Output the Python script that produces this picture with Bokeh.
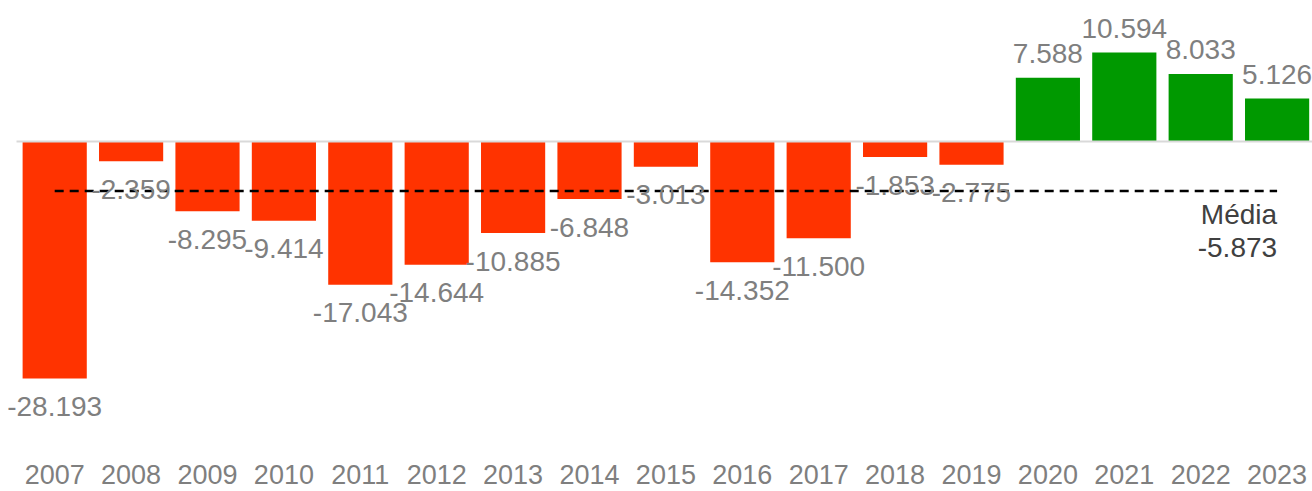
from bokeh.plotting import figure
from bokeh.models import ColumnDataSource, LabelSet, Label, Range1d
from bokeh.core.properties import value
from bokeh.embed import file_html
from bokeh.resources import INLINE

years = ["2007", "2008", "2009", "2010", "2011", "2012", "2013", "2014", "2015",
         "2016", "2017", "2018", "2019", "2020", "2021", "2022", "2023"]
values = [-28.193, -2.359, -8.295, -9.414, -17.043, -14.644, -10.885, -6.848, -3.013,
          -14.352, -11.500, -1.853, -2.775, 7.588, 10.594, 8.033, 5.126]
mean_label = "Média"

RED = "#FF3300"
GREEN = "#009900"
LABEL_GRAY = "#7F7F7F"
DARK = "#404040"
FONT = "Liberation Sans"
FS = "28px"
FS_YEAR = "27px"

xs = list(range(len(years)))
colors = [GREEN if v >= 0 else RED for v in values]
texts = [f"{v:.3f}" for v in values]
mean = sum(values) / len(values)

# layout constants (pixels)
W, H = 1312, 491
left_px = 16          # where the category area begins
step = 76.4           # pixels per category
zero_px = 141
px_per_unit = 8.41

x_start = -0.5 - left_px / step
x_end = -0.5 + (W - left_px) / step
y_top = zero_px / px_per_unit
y_bot = -(H - zero_px) / px_per_unit

p = figure(width=W, height=H, output_backend="svg", toolbar_location=None,
           x_range=Range1d(x_start, x_end), y_range=Range1d(y_bot, y_top),
           x_axis_location=None, y_axis_location=None,
           min_border_left=0, min_border_right=0,
           min_border_top=0, min_border_bottom=0)
p.outline_line_color = None
p.grid.visible = False
p.background_fill_color = "white"
p.border_fill_color = "white"

src = ColumnDataSource(dict(x=xs, v=values, c=colors, t=texts, yr=years,
                            base=[y_bot] * len(xs)))
p.vbar(x="x", top="v", bottom=0, width=0.84, fill_color="c", line_color=None, source=src)

# zero baseline across the category area
p.line(x=[-0.5, x_end], y=[0, 0], line_color="#D9D9D9", line_width=2)

p.line(x=[xs[0], xs[-1]], y=[mean, mean], line_color="black", line_width=2.5, line_dash="9 6")

neg = ColumnDataSource(dict(x=[x for x, v in zip(xs, values) if v < 0],
                            v=[v for v in values if v < 0],
                            t=[t for t, v in zip(texts, values) if v < 0]))
pos = ColumnDataSource(dict(x=[x for x, v in zip(xs, values) if v >= 0],
                            v=[v for v in values if v >= 0],
                            t=[t for t, v in zip(texts, values) if v >= 0]))
for s, off in ((neg, -28), (pos, 24)):
    p.add_layout(LabelSet(x="x", y="v", text="t", source=s, y_offset=off,
                          text_align="center", text_baseline="middle",
                          text_font=value(FONT), text_font_size=value(FS),
                          text_color=LABEL_GRAY))

# category (year) labels along the bottom
p.add_layout(LabelSet(x="x", y="base", text="yr", source=src, y_offset=17,
                      text_align="center", text_baseline="middle",
                      text_font=value(FONT), text_font_size=value(FS_YEAR),
                      text_color=LABEL_GRAY))

p.add_layout(Label(x=xs[-1], y=mean, text=mean_label, y_offset=-24, text_align="right",
                   text_baseline="middle", text_font=FONT, text_font_size=FS, text_color=DARK))
p.add_layout(Label(x=xs[-1], y=mean, text=f"{mean:.3f}", y_offset=-57, text_align="right",
                   text_baseline="middle", text_font=FONT, text_font_size=FS, text_color=DARK))

open("out.html", "w").write(file_html(p, INLINE))
